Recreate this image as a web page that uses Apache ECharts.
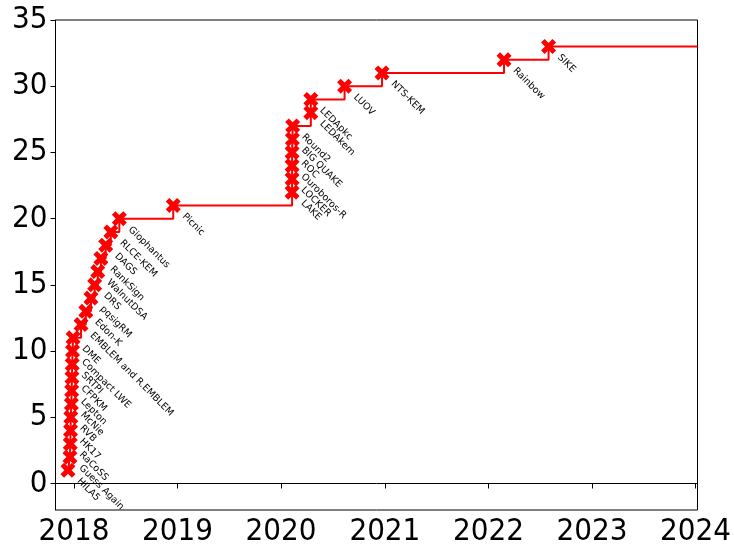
<!DOCTYPE html>
<html>
<head>
<meta charset="utf-8">
<script src="https://cdn.jsdelivr.net/npm/echarts@6/dist/echarts.min.js"></script>
<style>
html,body{margin:0;padding:0;background:#fff;}
#chart{width:734px;height:547px;}
</style>
</head>
<body>
<div id="chart"></div>
<script>
// Scheme names (in order of being broken)
const schemeNames = ['HILA5','Guess Again','RaCoSS','HK17','RVB','McNie','Lepton','CFPKM','SRTPI','Compact LWE','DME','EMBLEM and R.EMBLEM','Edon-K','pqsigRM','DRS','WalnutDSA','RankSign','DAGS','RLCE-KEM','Giophantus','Picnic','LAKE','LOCKER','Ouroboros-R','ROC','BIG QUAKE','Round2','LEDAkem','LEDApkc','LUOV','NTS-KEM','Rainbow','SIKE'];
// Date each was broken
const breakDates = ['2017-12-11','2017-12-18','2017-12-19','2017-12-20','2017-12-21','2017-12-23','2017-12-24','2017-12-25','2017-12-26','2017-12-27','2017-12-29','2018-01-26','2018-02-12','2018-03-02','2018-03-15','2018-03-26','2018-04-06','2018-04-23','2018-05-11','2018-06-10','2018-12-17','2020-02-09','2020-02-09','2020-02-09','2020-02-09','2020-02-10','2020-02-11','2020-04-15','2020-04-15','2020-08-12','2020-12-22','2022-02-25','2022-08-01'];
// Cumulative number of broken schemes
const brokenCounts = [1,2,3,4,5,6,7,8,9,10,11,12,13,14,15,16,17,18,19,20,21,22,23,24,25,26,27,28,29,30,31,32,33];
// Axis settings
const xMin = '2017-10-28';
const xMax = '2024-01-08';
const lineEnd = '2024-01-08';
const yearTicks = ['2018-01-01','2019-01-01','2020-01-01','2021-01-01','2022-01-01','2023-01-01','2024-01-01'];
const yTicks = [0,5,10,15,20,25,30,35];

const ts = s => new Date(s + 'T00:00:00Z').getTime();

const seriesData = breakDates.map((d, i) => [ts(d), brokenCounts[i]]);
seriesData.push({value: [ts(lineEnd), brokenCounts[brokenCounts.length - 1]], symbol: 'none', label: {show: false}});

const xSymbol = 'path://M0,24 L24,0 L50,26 L76,0 L100,24 L74,50 L100,76 L76,100 L50,74 L24,100 L0,76 L26,50 Z';
const tickFont = 'DejaVu Sans Condensed';

const chart = echarts.init(document.getElementById('chart'), null, {renderer: 'canvas'});
chart.setOption({
  animation: false,
  backgroundColor: '#fff',
  grid: {left: 55.5, right: 33, top: 20, bottom: 35.5, show: true, borderColor: '#000', borderWidth: 1, containLabel: false},
  xAxis: {
    type: 'value',
    min: ts(xMin), max: ts(xMax),
    splitLine: {show: false},
    axisLine: {show: true, lineStyle: {color: '#000', width: 1}},
    axisTick: {show: true, length: 5, lineStyle: {color: '#000', width: 1}, customValues: yearTicks.map(ts)},
    axisLabel: {
      customValues: yearTicks.map(ts),
      formatter: v => String(new Date(v).getUTCFullYear()),
      fontSize: 31, fontFamily: tickFont, color: '#000', margin: 6
    },
    minorTick: {show: false}
  },
  yAxis: {
    type: 'value',
    min: -2, max: 35,
    splitLine: {show: false},
    axisLine: {show: true, lineStyle: {color: '#000', width: 1}},
    axisTick: {show: true, length: 5, lineStyle: {color: '#000', width: 1}, customValues: yTicks},
    axisLabel: {customValues: yTicks, fontSize: 31, fontFamily: tickFont, color: '#000', margin: 8}
  },
  series: [{
    type: 'line',
    step: 'end',
    data: seriesData,
    lineStyle: {color: '#ff0000', width: 2},
    itemStyle: {color: '#ff0000'},
    symbol: xSymbol,
    symbolSize: 15,
    showAllSymbol: true,
    clip: false,
    label: {
      show: true,
      formatter: p => schemeNames[p.dataIndex] || '',
      position: [18, 17],
      rotate: -45,
      align: 'left',
      verticalAlign: 'middle',
      fontSize: 9.5,
      fontFamily: 'DejaVu Sans',
      color: '#000'
    },
    labelLayout: {hideOverlap: false},
    emphasis: {disabled: true}
  }]
});
</script>
</body>
</html>
